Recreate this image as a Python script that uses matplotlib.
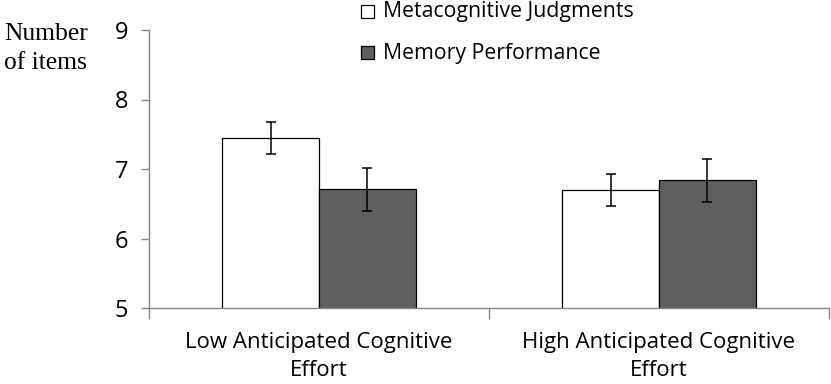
import matplotlib
matplotlib.use("Agg")
import matplotlib.pyplot as plt
from matplotlib.patches import Rectangle
import numpy as np

categories = ["Low Anticipated Cognitive\nEffort", "High Anticipated Cognitive\nEffort"]
series_names = ["Metacognitive Judgments", "Memory Performance"]
judgments = [7.44, 6.70]
judgments_err = [0.23, 0.23]
performance = [6.71, 6.84]
performance_err = [0.31, 0.31]
series_colors = ["white", "#5f5f5f"]

plt.rcParams["font.family"] = ["Open Sans", "DejaVu Sans"]

W, H = 831, 384
fig = plt.figure(figsize=(W / 100, H / 100), dpi=100)
ax = fig.add_axes([149 / W, 1 - 308 / H, (829 - 149) / W, (308 - 30) / H])

x = np.arange(len(categories))
w = 0.285
err_kw = dict(ecolor="black", elinewidth=1.1, capsize=3.3, capthick=1.1)
ax.bar(x - w / 2, judgments, w, yerr=judgments_err, color=series_colors[0],
       edgecolor="black", linewidth=0.9, error_kw=err_kw, zorder=2)
ax.bar(x + w / 2, performance, w, yerr=performance_err, color=series_colors[1],
       edgecolor="black", linewidth=0.9, error_kw=err_kw, zorder=2)

ax.set_xlim(-0.5, 1.5)
ax.set_ylim(5, 9)
ax.set_yticks([5, 6, 7, 8, 9])
ax.set_xticks(x)
ax.set_xticklabels(categories, fontsize=16, linespacing=1.45)
ax.tick_params(axis="x", length=0, pad=17)
ax.set_xticks([-0.5, 0.5, 1.5], minor=True)
ax.tick_params(axis="x", which="minor", length=8, color="#868686", width=1)
ax.tick_params(axis="y", length=6, color="#868686", width=1, labelsize=17, pad=9)

for side in ["top", "right"]:
    ax.spines[side].set_visible(False)
for side in ["left", "bottom"]:
    ax.spines[side].set_color("#868686")
    ax.spines[side].set_linewidth(1)

fig.text(4 / W, 1 - 40 / H, "Number", family=["Liberation Serif"],
         fontsize=18.4, va="baseline", ha="left")
fig.text(4 / W, 1 - 69 / H, "of items", family=["Liberation Serif"],
         fontsize=18.4, va="baseline", ha="left")

# legend entries: square swatch followed by the series name
for i, (name, col) in enumerate(zip(series_names, series_colors)):
    cy = 11 + 41 * i
    fig.patches.append(Rectangle((361 / W, 1 - (cy + 6.5) / H), 13 / W, 13 / H,
                                 transform=fig.transFigure, facecolor=col,
                                 edgecolor="black", linewidth=0.9))
    fig.text(383 / W, 1 - (cy + 6.5) / H, name, fontsize=15.3,
             va="baseline", ha="left")

fig.savefig("out.png", dpi=100)
